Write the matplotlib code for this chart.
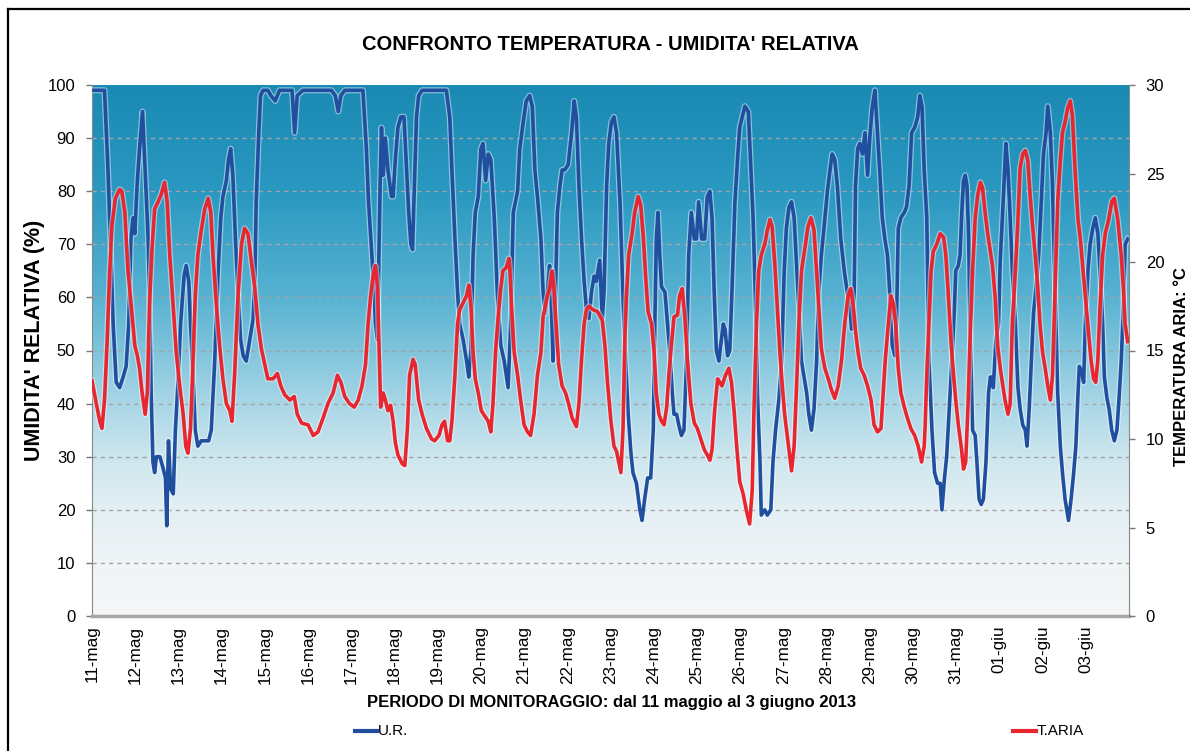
import numpy as np
import matplotlib
matplotlib.use("Agg")
import matplotlib.pyplot as plt
import matplotlib.patheffects as pe
from matplotlib.colors import LinearSegmentedColormap
from matplotlib.lines import Line2D

plt.rcParams['font.family'] = ['Liberation Sans', 'DejaVu Sans']

# giorni dall'11 maggio 00:00
date_labels = ['11-mag', '12-mag', '13-mag', '14-mag', '15-mag', '16-mag', '17-mag',
               '18-mag', '19-mag', '20-mag', '21-mag', '22-mag', '23-mag', '24-mag',
               '25-mag', '26-mag', '27-mag', '28-mag', '29-mag', '30-mag', '31-mag',
               '01-giu', '02-giu', '03-giu']

# umidita' relativa (%)
ur_points = [
    (0.00, 99), (0.29, 99), (0.37, 84), (0.43, 70), (0.49, 55), (0.56, 44), (0.64, 43), (0.72, 45),
    (0.79, 47), (0.85, 55), (0.90, 71), (0.95, 75), (0.99, 72), (1.05, 82), (1.10, 88), (1.17, 95),
    (1.23, 84), (1.30, 71), (1.33, 61), (1.37, 42), (1.41, 29), (1.45, 27), (1.49, 30), (1.57, 30),
    (1.64, 28), (1.70, 26), (1.73, 17), (1.77, 33), (1.82, 24), (1.88, 23), (1.93, 35), (1.99, 44),
    (2.05, 55), (2.13, 64), (2.18, 66), (2.24, 63), (2.28, 55), (2.34, 45), (2.39, 35), (2.45, 32),
    (2.53, 33), (2.61, 33), (2.70, 33), (2.76, 35), (2.84, 48), (2.92, 65), (2.98, 75), (3.03, 79),
    (3.11, 82), (3.16, 86), (3.21, 88), (3.26, 83), (3.32, 71), (3.38, 61), (3.44, 52), (3.50, 49),
    (3.57, 48), (3.65, 52), (3.73, 56), (3.77, 64), (3.80, 78), (3.86, 91), (3.90, 98), (3.96, 99),
    (4.07, 99), (4.14, 98), (4.24, 97), (4.34, 99), (4.63, 99), (4.69, 91), (4.75, 98), (4.88, 99),
    (5.54, 99), (5.63, 98), (5.70, 95), (5.76, 98), (5.85, 99), (6.27, 99), (6.35, 88), (6.40, 78),
    (6.47, 69), (6.53, 61), (6.56, 55), (6.61, 52), (6.64, 68), (6.67, 82), (6.70, 92), (6.74, 83),
    (6.79, 90), (6.85, 84), (6.93, 79), (6.97, 79), (7.02, 86), (7.08, 92), (7.15, 94), (7.22, 94),
    (7.28, 84), (7.33, 76), (7.38, 70), (7.42, 69), (7.45, 78), (7.51, 94), (7.56, 98), (7.64, 99),
    (8.20, 99), (8.28, 94), (8.33, 84), (8.40, 71), (8.46, 61), (8.51, 55), (8.59, 52), (8.67, 48),
    (8.72, 45), (8.77, 50), (8.82, 68), (8.87, 76), (8.94, 79), (9.00, 88), (9.05, 89), (9.11, 82),
    (9.17, 87), (9.23, 86), (9.31, 75), (9.38, 61), (9.46, 51), (9.54, 48), (9.63, 43), (9.69, 55),
    (9.75, 76), (9.80, 78), (9.85, 80), (9.90, 88), (9.98, 93), (10.05, 97), (10.13, 98), (10.19, 96),
    (10.25, 84), (10.32, 78), (10.39, 71), (10.44, 61), (10.49, 57), (10.54, 61), (10.59, 66), (10.63, 59),
    (10.67, 48), (10.71, 55), (10.77, 76), (10.83, 81), (10.88, 84), (10.94, 84), (11.02, 85), (11.10, 91),
    (11.16, 97), (11.21, 94), (11.27, 81), (11.33, 71), (11.39, 63), (11.44, 58), (11.50, 56), (11.56, 61),
    (11.62, 64), (11.67, 63), (11.75, 67), (11.81, 56), (11.85, 61), (11.91, 81), (11.96, 89), (12.02, 93),
    (12.08, 94), (12.14, 91), (12.22, 78), (12.29, 60), (12.35, 48), (12.41, 38), (12.47, 31), (12.52, 27),
    (12.60, 25), (12.68, 20), (12.73, 18), (12.79, 22), (12.86, 26), (12.93, 26), (12.99, 35), (13.02, 52),
    (13.06, 71), (13.10, 76), (13.14, 68), (13.18, 62), (13.26, 61), (13.32, 55), (13.37, 50), (13.43, 42),
    (13.47, 38), (13.53, 38), (13.58, 36), (13.64, 34), (13.70, 35), (13.76, 48), (13.81, 68), (13.87, 76),
    (13.94, 71), (13.99, 71), (14.04, 78), (14.11, 71), (14.18, 71), (14.24, 79), (14.30, 80), (14.35, 75),
    (14.40, 61), (14.45, 50), (14.51, 48), (14.55, 51), (14.61, 55), (14.65, 54), (14.71, 49), (14.76, 50),
    (14.81, 61), (14.88, 78), (14.94, 86), (14.99, 92), (15.05, 94), (15.11, 96), (15.19, 95), (15.25, 84),
    (15.30, 75), (15.36, 58), (15.40, 42), (15.46, 29), (15.49, 19), (15.57, 20), (15.63, 19), (15.71, 20),
    (15.76, 29), (15.82, 35), (15.90, 41), (15.96, 48), (16.02, 65), (16.07, 73), (16.13, 77), (16.19, 78),
    (16.25, 75), (16.30, 67), (16.36, 58), (16.42, 48), (16.48, 45), (16.54, 42), (16.59, 38), (16.65, 35),
    (16.71, 39), (16.77, 48), (16.82, 61), (16.88, 68), (16.94, 73), (17.02, 80), (17.08, 84), (17.13, 87),
    (17.19, 86), (17.25, 81), (17.33, 71), (17.41, 65), (17.48, 61), (17.54, 58), (17.58, 54), (17.64, 61),
    (17.67, 81), (17.72, 88), (17.77, 89), (17.83, 87), (17.89, 91), (17.95, 83), (18.00, 90), (18.06, 96),
    (18.12, 99), (18.18, 91), (18.23, 84), (18.29, 75), (18.35, 71), (18.41, 68), (18.47, 60), (18.52, 51),
    (18.58, 49), (18.62, 56), (18.66, 73), (18.72, 75), (18.80, 76), (18.85, 77), (18.91, 81), (18.97, 91),
    (19.04, 92), (19.11, 94), (19.16, 98), (19.21, 96), (19.26, 84), (19.32, 75), (19.37, 48), (19.44, 35),
    (19.50, 27), (19.57, 25), (19.63, 25), (19.67, 20), (19.73, 26), (19.78, 30), (19.84, 39), (19.90, 48),
    (19.96, 58), (19.99, 65), (20.05, 66), (20.09, 68), (20.13, 76), (20.17, 82), (20.21, 83), (20.25, 81),
    (20.29, 71), (20.32, 55), (20.38, 35), (20.44, 34), (20.48, 29), (20.53, 22), (20.58, 21), (20.63, 22),
    (20.69, 29), (20.75, 42), (20.79, 45), (20.83, 45), (20.86, 43), (20.92, 52), (20.98, 55), (21.02, 67),
    (21.07, 75), (21.12, 84), (21.15, 89), (21.20, 84), (21.25, 75), (21.30, 65), (21.37, 55), (21.43, 43),
    (21.48, 39), (21.54, 36), (21.60, 35), (21.64, 32), (21.69, 39), (21.74, 48), (21.79, 57), (21.84, 61),
    (21.91, 68), (21.97, 78), (22.02, 87), (22.08, 91), (22.12, 96), (22.18, 91), (22.23, 81), (22.29, 61),
    (22.35, 42), (22.41, 32), (22.46, 27), (22.52, 22), (22.60, 18), (22.66, 22), (22.72, 27), (22.77, 32),
    (22.82, 42), (22.85, 47), (22.91, 46), (22.95, 44), (22.99, 55), (23.05, 65), (23.10, 70), (23.16, 73),
    (23.22, 75), (23.28, 72), (23.33, 65), (23.39, 55), (23.43, 45), (23.49, 41), (23.54, 39), (23.60, 35),
    (23.66, 33), (23.72, 35), (23.77, 41), (23.82, 48), (23.87, 58), (23.91, 70), (23.97, 71),
]

# temperatura aria (gradi C)
ta_points = [
    (0.00, 13.3), (0.10, 12.0), (0.18, 11.0), (0.23, 10.6), (0.29, 12.2), (0.35, 15.5), (0.41, 19.5),
    (0.46, 22.0), (0.54, 23.6), (0.64, 24.1), (0.69, 24.0), (0.76, 22.8), (0.83, 19.6), (0.91, 17.5),
    (0.99, 15.3), (1.05, 14.7), (1.10, 14.0), (1.16, 12.6), (1.23, 11.4), (1.28, 12.6), (1.33, 17.5),
    (1.39, 20.8), (1.45, 23.0), (1.53, 23.4), (1.60, 23.8), (1.68, 24.5), (1.74, 23.4), (1.80, 20.4),
    (1.88, 17.5), (1.95, 14.9), (2.03, 13.0), (2.11, 11.4), (2.17, 9.6), (2.22, 9.2), (2.28, 10.6),
    (2.34, 14.5), (2.39, 18.1), (2.45, 20.4), (2.53, 21.8), (2.61, 23.0), (2.69, 23.6), (2.75, 22.8),
    (2.80, 20.4), (2.88, 17.5), (2.96, 15.1), (3.03, 13.4), (3.11, 12.0), (3.19, 11.6), (3.24, 11.0),
    (3.30, 13.6), (3.38, 18.1), (3.46, 21.0), (3.53, 21.9), (3.61, 21.6), (3.69, 20.0), (3.77, 18.5),
    (3.84, 16.5), (3.92, 15.1), (4.00, 14.2), (4.07, 13.4), (4.19, 13.4), (4.29, 13.7), (4.37, 13.0),
    (4.46, 12.5), (4.58, 12.2), (4.68, 12.4), (4.75, 11.4), (4.85, 10.9), (5.00, 10.8), (5.12, 10.2),
    (5.23, 10.4), (5.35, 11.2), (5.46, 12.0), (5.58, 12.6), (5.68, 13.6), (5.76, 13.2), (5.85, 12.4),
    (5.96, 12.0), (6.07, 11.8), (6.16, 12.2), (6.25, 13.0), (6.33, 14.2), (6.39, 16.5), (6.45, 18.1),
    (6.51, 19.3), (6.56, 19.8), (6.61, 18.5), (6.64, 15.5), (6.68, 11.8), (6.74, 12.6), (6.79, 12.2),
    (6.85, 11.6), (6.91, 11.9), (6.97, 11.0), (7.02, 9.8), (7.08, 9.1), (7.18, 8.6), (7.24, 8.5),
    (7.30, 10.6), (7.35, 13.6), (7.43, 14.5), (7.48, 14.2), (7.56, 12.2), (7.64, 11.4), (7.74, 10.6),
    (7.86, 10.0), (7.93, 9.9), (8.03, 10.2), (8.10, 10.8), (8.16, 11.0), (8.23, 9.9), (8.28, 9.9),
    (8.33, 11.0), (8.40, 13.6), (8.46, 16.5), (8.51, 17.3), (8.59, 17.7), (8.67, 18.1), (8.72, 18.7),
    (8.77, 17.5), (8.82, 14.9), (8.87, 13.4), (8.94, 12.6), (9.01, 11.6), (9.09, 11.3), (9.17, 11.0),
    (9.23, 10.4), (9.28, 12.0), (9.34, 14.9), (9.40, 16.9), (9.46, 18.5), (9.51, 19.5), (9.59, 19.7),
    (9.65, 20.2), (9.67, 19.6), (9.71, 17.5), (9.77, 14.9), (9.85, 13.6), (9.92, 12.2), (10.00, 10.8),
    (10.08, 10.4), (10.15, 10.2), (10.23, 11.4), (10.31, 13.6), (10.39, 14.9), (10.44, 16.9), (10.49, 17.5),
    (10.54, 18.1), (10.59, 18.5), (10.65, 19.5), (10.69, 18.5), (10.75, 16.1), (10.80, 14.2), (10.88, 13.0),
    (10.96, 12.6), (11.03, 12.0), (11.11, 11.2), (11.21, 10.7), (11.27, 12.0), (11.33, 14.5), (11.39, 16.5),
    (11.44, 17.3), (11.50, 17.5), (11.60, 17.3), (11.70, 17.2), (11.81, 16.7), (11.87, 15.3), (11.93, 13.2),
    (12.01, 11.0), (12.08, 9.6), (12.14, 9.3), (12.19, 8.7), (12.24, 8.1), (12.29, 10.6), (12.33, 15.5),
    (12.37, 18.1), (12.42, 20.4), (12.50, 21.6), (12.56, 22.8), (12.64, 23.7), (12.70, 23.2), (12.76, 21.4),
    (12.81, 19.3), (12.87, 17.2), (12.95, 16.5), (13.01, 14.9), (13.06, 12.6), (13.12, 11.4), (13.18, 11.0),
    (13.24, 10.8), (13.30, 11.8), (13.35, 13.6), (13.41, 15.3), (13.47, 16.9), (13.55, 17.0), (13.60, 18.1),
    (13.66, 18.5), (13.72, 16.9), (13.78, 14.5), (13.86, 12.0), (13.94, 10.9), (14.01, 10.6), (14.09, 10.0),
    (14.17, 9.4), (14.24, 9.1), (14.30, 8.8), (14.35, 9.4), (14.41, 11.6), (14.48, 13.4), (14.58, 13.0),
    (14.66, 13.6), (14.74, 14.0), (14.80, 13.2), (14.86, 11.6), (14.92, 9.6), (14.99, 7.6), (15.07, 6.9),
    (15.15, 5.9), (15.22, 5.2), (15.28, 7.1), (15.32, 11.6), (15.38, 16.5), (15.43, 19.5), (15.49, 20.4),
    (15.57, 21.0), (15.63, 21.8), (15.69, 22.4), (15.74, 22.0), (15.80, 20.0), (15.86, 17.5), (15.92, 14.9),
    (15.97, 13.2), (16.03, 11.4), (16.11, 9.8), (16.19, 8.2), (16.25, 9.6), (16.30, 12.6), (16.36, 16.5),
    (16.42, 19.5), (16.50, 20.8), (16.57, 22.0), (16.64, 22.5), (16.71, 21.8), (16.77, 19.5), (16.82, 17.5),
    (16.88, 15.1), (16.96, 14.0), (17.04, 13.4), (17.11, 12.8), (17.19, 12.3), (17.27, 13.0), (17.35, 14.5),
    (17.42, 16.5), (17.50, 18.1), (17.56, 18.5), (17.62, 17.5), (17.67, 16.1), (17.73, 14.9), (17.79, 14.0),
    (17.87, 13.6), (17.95, 13.0), (18.03, 12.2), (18.10, 10.8), (18.18, 10.4), (18.26, 10.6), (18.31, 12.6),
    (18.36, 14.5), (18.43, 16.5), (18.49, 18.1), (18.54, 17.7), (18.60, 16.5), (18.66, 14.0), (18.72, 12.6),
    (18.80, 11.8), (18.87, 11.2), (18.95, 10.6), (19.04, 10.2), (19.12, 9.6), (19.20, 8.7), (19.26, 9.6),
    (19.28, 10.6), (19.32, 13.6), (19.37, 16.5), (19.42, 19.5), (19.47, 20.6), (19.55, 21.0), (19.63, 21.6),
    (19.71, 21.4), (19.76, 20.4), (19.82, 18.1), (19.88, 15.5), (19.94, 13.6), (19.99, 12.2), (20.05, 10.8),
    (20.12, 9.5), (20.17, 8.3), (20.22, 8.7), (20.27, 11.6), (20.32, 15.5), (20.38, 19.5), (20.44, 22.5),
    (20.50, 23.8), (20.56, 24.5), (20.61, 24.2), (20.67, 22.8), (20.73, 21.6), (20.79, 20.6), (20.84, 19.8),
    (20.90, 18.1), (20.96, 15.3), (21.02, 14.0), (21.07, 13.2), (21.13, 12.2), (21.20, 11.4), (21.25, 12.0),
    (21.30, 16.5), (21.37, 19.5), (21.43, 22.4), (21.48, 25.3), (21.54, 26.1), (21.60, 26.3), (21.66, 25.7),
    (21.71, 23.8), (21.77, 22.0), (21.83, 20.4), (21.89, 18.5), (21.94, 16.5), (22.00, 14.9), (22.06, 14.0),
    (22.12, 13.0), (22.18, 12.2), (22.23, 13.6), (22.29, 18.5), (22.35, 23.4), (22.41, 25.7), (22.46, 27.3),
    (22.52, 27.9), (22.58, 28.7), (22.64, 29.1), (22.69, 28.3), (22.75, 25.3), (22.82, 22.4), (22.87, 21.4),
    (22.92, 20.0), (22.99, 18.1), (23.06, 16.1), (23.12, 14.5), (23.18, 13.4), (23.23, 13.2), (23.28, 14.5),
    (23.33, 17.5), (23.39, 20.4), (23.45, 21.6), (23.53, 22.4), (23.60, 23.4), (23.66, 23.6), (23.74, 22.4),
    (23.82, 20.4), (23.87, 18.5), (23.91, 16.5), (23.97, 15.5),
]

ur_days, ur_vals = zip(*ur_points)
ta_days, ta_vals = zip(*ta_points)

BLUE = '#1f4f9e'
RED = '#e8262f'
NARROW = ['Liberation Sans Narrow', 'Liberation Sans', 'DejaVu Sans']

W, H = 1190, 751
fig = plt.figure(figsize=(W / 100, H / 100), dpi=100)
ax = fig.add_axes([92 / W, 1 - 616 / H, (1129 - 92) / W, (616 - 85) / H])

# sfondo sfumato dell'area del grafico
bg = LinearSegmentedColormap.from_list('bg', [
    (0.00, '#f6f8f8'), (0.10, '#eff4f6'), (0.20, '#e3eff3'), (0.30, '#cde6ee'),
    (0.40, '#a8d6e6'), (0.50, '#80c4dc'), (0.60, '#58b2d2'), (0.80, '#2a98c0'),
    (1.00, '#1a8ab4')])
grad = np.linspace(0, 1, 256).reshape(-1, 1)
ax.imshow(grad, extent=[0, 24, 0, 100], origin='lower', aspect='auto', cmap=bg, zorder=0)

for v in range(10, 100, 10):
    ax.axhline(v, color='#a4a4a4', lw=1.0, ls=(0, (3, 3)), zorder=1)

halo = [pe.Stroke(linewidth=4.4, foreground='white', alpha=0.45), pe.Normal()]
ax.plot(ur_days, ur_vals, color=BLUE, lw=2.6, zorder=3, path_effects=halo)

ax2 = ax.twinx()
ax2.plot(ta_days, ta_vals, color=RED, lw=2.6, zorder=3, path_effects=halo)

ax.set_xlim(0, 24)
ax.set_ylim(0, 100)
ax2.set_ylim(0, 30)
ax.set_yticks(range(0, 101, 10))
ax2.set_yticks(range(0, 31, 5))
ax.set_xticks(range(len(date_labels)))
ax.set_xticklabels(date_labels, rotation=90)

ax.tick_params(axis='x', length=0, pad=7, labelsize=12.3)
ax.tick_params(axis='y', length=4, width=1, color='#777777', pad=8, labelsize=12)
ax2.tick_params(axis='y', length=4, width=1, color='#777777', pad=8, labelsize=12)

ax.spines['top'].set_visible(False)
for s in ['top', 'left', 'bottom']:
    ax2.spines[s].set_visible(False)
ax.spines['left'].set_color('#888888')
ax.spines['bottom'].set_color('#a8a8a8')
ax.spines['bottom'].set_linewidth(2.5)
ax.spines['right'].set_visible(False)
ax2.spines['right'].set_color('#888888')


def px(x, y):
    return x / W, 1 - y / H


fig.text(*px(610, 45), "CONFRONTO TEMPERATURA - UMIDITA' RELATIVA", ha='center', va='center',
         fontsize=14.5, weight='bold')
fig.text(*px(35, 340), "UMIDITA' RELATIVA (%)", rotation=90, ha='center', va='center',
         fontsize=15.5, weight='bold')
fig.text(*px(1182, 367), 'TEMPERATURA ARIA: \u00b0C', rotation=90, ha='center', va='center',
         fontsize=12, weight='bold')
fig.text(*px(612, 703), 'PERIODO DI MONITORAGGIO: dal 11 maggio al 3 giugno 2013',
         ha='center', va='center', fontsize=12, weight='bold', family=NARROW)

# legenda in basso
fig.add_artist(Line2D([355 / W, 377 / W], [1 - 731 / H] * 2, color=BLUE, lw=3))
fig.text(*px(378, 731), 'U.R.', va='center', fontsize=11, family=NARROW)
fig.add_artist(Line2D([1013 / W, 1036 / W], [1 - 731 / H] * 2, color=RED, lw=3))
fig.text(*px(1037, 731), 'T.ARIA', va='center', fontsize=11, family=NARROW)

# cornice
fig.add_artist(Line2D([8 / W, 8 / W], [0, 1 - 9 / H], color='black', lw=1.6))
fig.add_artist(Line2D([8 / W, 1], [1 - 9 / H, 1 - 9 / H], color='black', lw=1.6))

fig.savefig('out.png', dpi=100)
